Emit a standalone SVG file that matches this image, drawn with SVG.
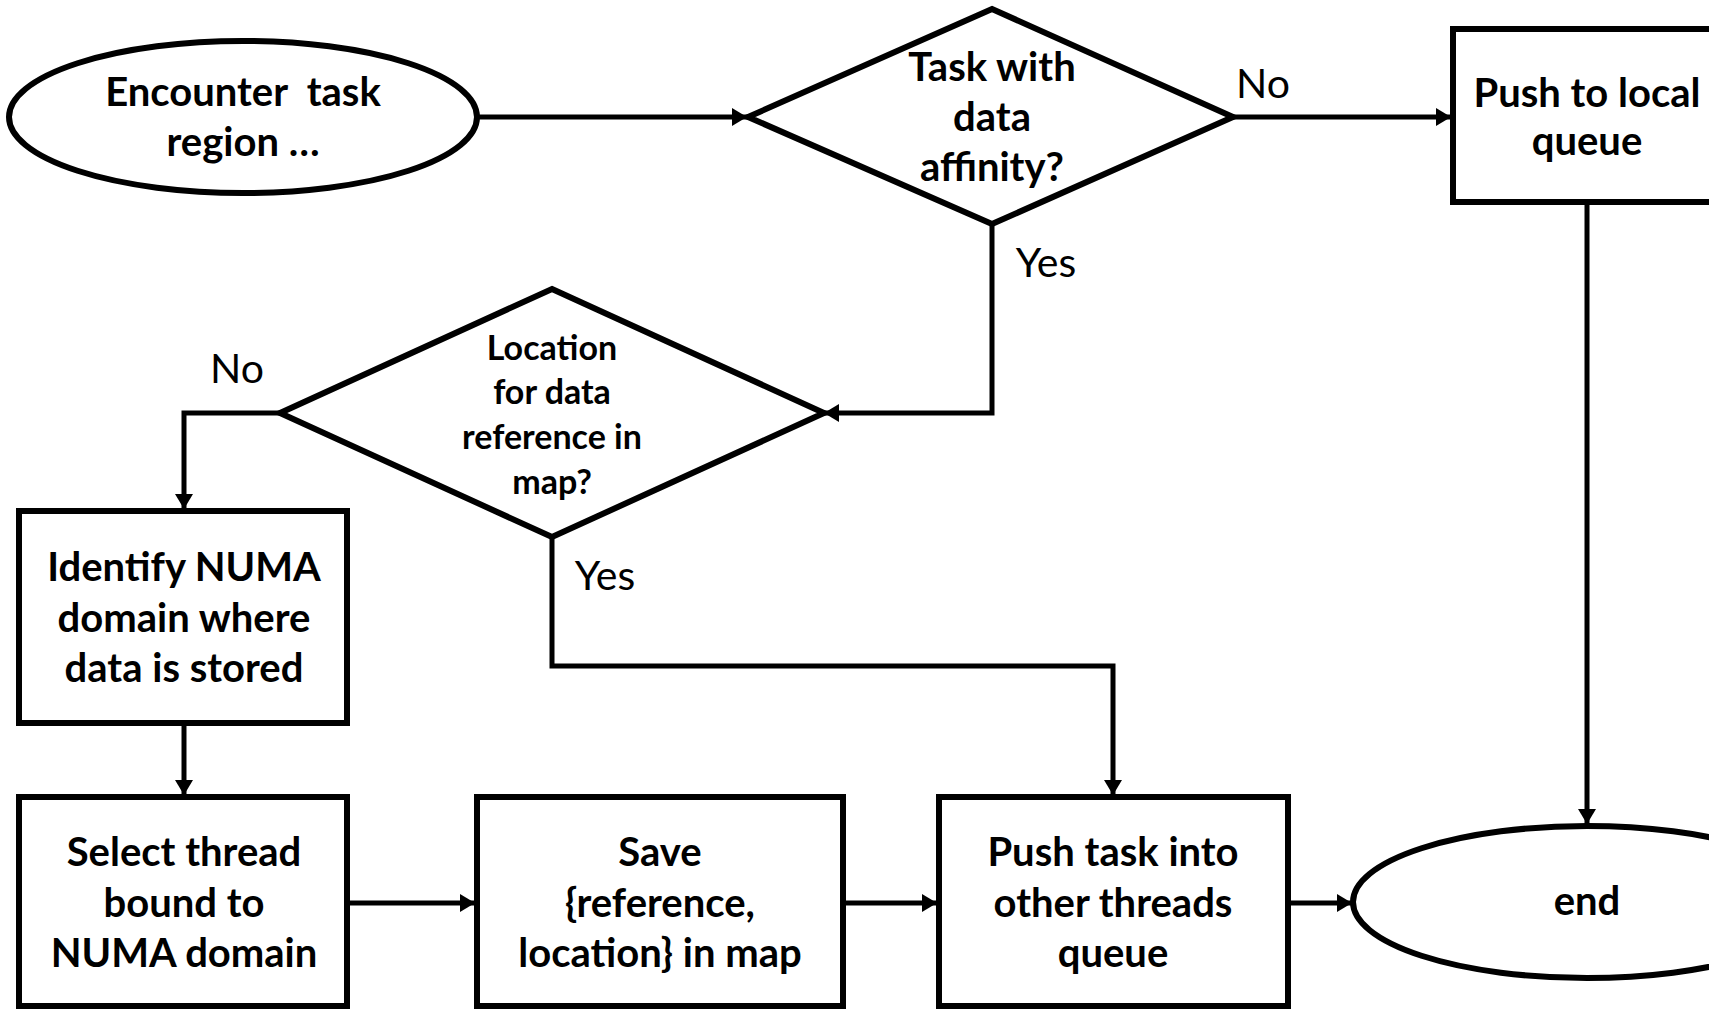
<svg xmlns="http://www.w3.org/2000/svg" width="1709" height="1009" viewBox="0 0 1709 1009">
<style>
.shape{fill:#fff;stroke:#000;stroke-width:6}
.conn{fill:none;stroke:#000;stroke-width:5}
.t{font-family:Lato,"Open Sans","Liberation Sans",sans-serif;font-weight:bold;font-size:40px;text-anchor:middle;fill:#000}
.s{font-size:34px}
.lbl{font-family:Lato,"Open Sans","Liberation Sans",sans-serif;font-weight:normal;font-size:41px;text-anchor:middle;fill:#000}
</style>
<defs>
<marker id="arr" markerUnits="userSpaceOnUse" markerWidth="18" markerHeight="20" viewBox="0 0 18 20" refX="16" refY="10" orient="auto">
<path d="M1,1 L16,10 L1,19 Z" fill="#000"/>
</marker>
</defs>
<rect width="1709" height="1009" fill="#fff"/>
<g id="connectors">
<path class="conn" d="M477,117 H747" marker-end="url(#arr)"/>
<path class="conn" d="M1233,117 H1451" marker-end="url(#arr)"/>
<path class="conn" d="M1587,202 V824" marker-end="url(#arr)"/>
<path class="conn" d="M992,224 V413 H824" marker-end="url(#arr)"/>
<path class="conn" d="M280,413 H184 V509" marker-end="url(#arr)"/>
<path class="conn" d="M184,723 V795" marker-end="url(#arr)"/>
<path class="conn" d="M347,903 H475" marker-end="url(#arr)"/>
<path class="conn" d="M843,903 H937" marker-end="url(#arr)"/>
<path class="conn" d="M552,537 V666 H1113 V795" marker-end="url(#arr)"/>
<path class="conn" d="M1288,903 H1352" marker-end="url(#arr)"/>
</g>
<g id="labels">
<text class="lbl" x="1263" y="98">No</text>
<text class="lbl" x="1046" y="277">Yes</text>
<text class="lbl" x="237" y="383">No</text>
<text class="lbl" x="605" y="590">Yes</text>
</g>
<g id="start">
<ellipse class="shape" cx="243" cy="117" rx="234" ry="76"/>
<text class="t" x="243" y="106" xml:space="preserve">Encounter  task</text>
<text class="t" x="243" y="156">region …</text>
</g>
<g id="decision-affinity">
<polygon class="shape" points="992,9 1233,117 992,224 748,117"/>
<text class="t" x="992" y="81">Task with</text>
<text class="t" x="992" y="131">data</text>
<text class="t" x="992" y="181">affinity?</text>
</g>
<g id="push-local">
<rect class="shape" x="1453" y="29" width="272" height="173"/>
<text class="t" x="1587" y="107">Push to local</text>
<text class="t" x="1587" y="155">queue</text>
</g>
<g id="decision-location">
<polygon class="shape" points="552,289 824,413 552,537 280,413"/>
<text class="t s" x="552" y="360">Location</text>
<text class="t s" x="552" y="404">for data</text>
<text class="t s" x="552" y="449">reference in</text>
<text class="t s" x="552" y="494">map?</text>
</g>
<g id="identify">
<rect class="shape" x="19" y="511" width="328" height="212"/>
<text class="t" x="184" y="581">Identify NUMA</text>
<text class="t" x="184" y="632">domain where</text>
<text class="t" x="184" y="682">data is stored</text>
</g>
<g id="select">
<rect class="shape" x="19" y="797" width="328" height="209"/>
<text class="t" x="184" y="866">Select thread</text>
<text class="t" x="184" y="917">bound to</text>
<text class="t" x="184" y="967">NUMA domain</text>
</g>
<g id="save">
<rect class="shape" x="477" y="797" width="366" height="209"/>
<text class="t" x="660" y="866">Save</text>
<text class="t" x="660" y="917">{reference,</text>
<text class="t" x="660" y="967">location} in map</text>
</g>
<g id="push-other">
<rect class="shape" x="939" y="797" width="349" height="209"/>
<text class="t" x="1113" y="866">Push task into</text>
<text class="t" x="1113" y="917">other threads</text>
<text class="t" x="1113" y="967">queue</text>
</g>
<g id="end">
<ellipse class="shape" cx="1587" cy="902" rx="234" ry="76"/>
<text class="t" x="1587" y="915">end</text>
</g>
</svg>
